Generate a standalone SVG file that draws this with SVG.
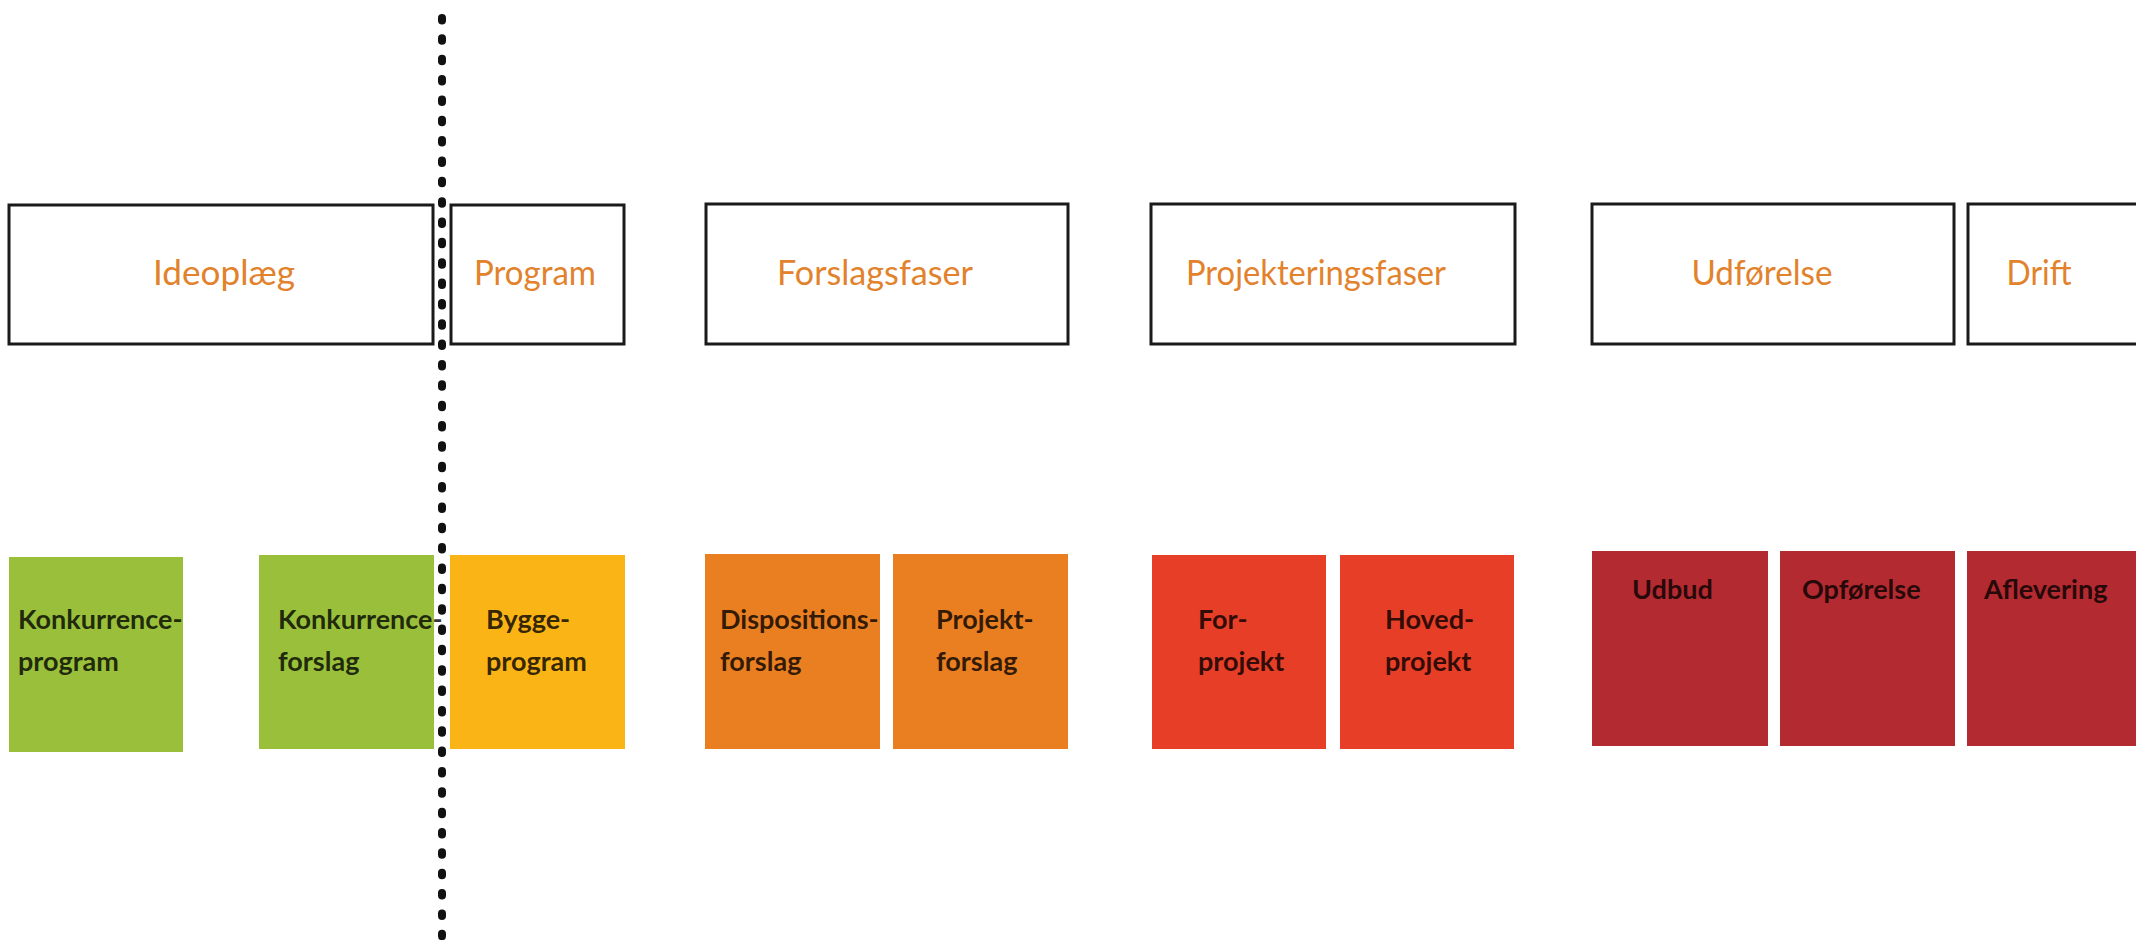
<svg xmlns="http://www.w3.org/2000/svg" width="2136" height="940" viewBox="0 0 2136 940">
  <style>
    .phase { fill: #ffffff; stroke: #1a1a1a; stroke-width: 3; }
    .phase-t { font-family: Lato, "Open Sans", "Liberation Sans", sans-serif; font-size: 35px; fill: #E2822C; text-anchor: middle; }
    .step-t { font-family: Lato, "Open Sans", "Liberation Sans", sans-serif; font-size: 27px; font-weight: 700; fill: #000000; fill-opacity: 0.8; }
    .green { fill: #9AC03B; }
    .yellow { fill: #FBB416; }
    .orange { fill: #EA7F22; }
    .red { fill: #E73E27; }
    .dred { fill: #B32A30; }
  </style>
  <rect width="2136" height="940" fill="#ffffff"/>

  <!-- phase headers -->
  <g id="ideoplaeg">
    <rect class="phase" x="9" y="205" width="424" height="139"/>
    <text class="phase-t" x="224" y="285" textLength="142" lengthAdjust="spacingAndGlyphs">Ideoplæg</text>
  </g>
  <g id="program">
    <rect class="phase" x="451" y="205" width="173" height="139"/>
    <text class="phase-t" x="535" y="285" textLength="122" lengthAdjust="spacingAndGlyphs">Program</text>
  </g>
  <g id="forslagsfaser">
    <rect class="phase" x="706" y="204" width="362" height="140"/>
    <text class="phase-t" x="875" y="285" textLength="196" lengthAdjust="spacingAndGlyphs">Forslagsfaser</text>
  </g>
  <g id="projekteringsfaser">
    <rect class="phase" x="1151" y="204" width="364" height="140"/>
    <text class="phase-t" x="1316" y="285" textLength="260" lengthAdjust="spacingAndGlyphs">Projekteringsfaser</text>
  </g>
  <g id="udfoerelse">
    <rect class="phase" x="1592" y="204" width="362" height="140"/>
    <text class="phase-t" x="1762" y="285" textLength="141" lengthAdjust="spacingAndGlyphs">Udførelse</text>
  </g>
  <g id="drift">
    <rect class="phase" x="1968" y="204" width="180" height="140"/>
    <text class="phase-t" x="2039" y="285" textLength="65" lengthAdjust="spacingAndGlyphs">Drift</text>
  </g>

  <!-- steps -->
  <g id="konkurrenceprogram">
    <rect class="green" x="9" y="557" width="174" height="195"/>
    <text class="step-t" x="18" y="629">Konkurrence-</text>
    <text class="step-t" x="18" y="671">program</text>
  </g>
  <g id="konkurrenceforslag">
    <rect class="green" x="259" y="555" width="175" height="194"/>
    <text class="step-t" x="278" y="629">Konkurrence-</text>
    <text class="step-t" x="278" y="671">forslag</text>
  </g>
  <g id="byggeprogram">
    <rect class="yellow" x="450" y="555" width="175" height="194"/>
    <text class="step-t" x="486" y="629">Bygge-</text>
    <text class="step-t" x="486" y="671">program</text>
  </g>
  <g id="dispositionsforslag">
    <rect class="orange" x="705" y="554" width="175" height="195"/>
    <text class="step-t" x="720" y="629">Dispositions-</text>
    <text class="step-t" x="720" y="671">forslag</text>
  </g>
  <g id="projektforslag">
    <rect class="orange" x="893" y="554" width="175" height="195"/>
    <text class="step-t" x="936" y="629">Projekt-</text>
    <text class="step-t" x="936" y="671">forslag</text>
  </g>
  <g id="forprojekt">
    <rect class="red" x="1152" y="555" width="174" height="194"/>
    <text class="step-t" x="1198" y="629">For-</text>
    <text class="step-t" x="1198" y="671">projekt</text>
  </g>
  <g id="hovedprojekt">
    <rect class="red" x="1340" y="555" width="174" height="194"/>
    <text class="step-t" x="1385" y="629">Hoved-</text>
    <text class="step-t" x="1385" y="671">projekt</text>
  </g>
  <g id="udbud">
    <rect class="dred" x="1592" y="551" width="176" height="195"/>
    <text class="step-t" x="1632" y="599">Udbud</text>
  </g>
  <g id="opfoerelse">
    <rect class="dred" x="1780" y="551" width="175" height="195"/>
    <text class="step-t" x="1802" y="599">Opførelse</text>
  </g>
  <g id="aflevering">
    <rect class="dred" x="1967" y="551" width="180" height="195"/>
    <text class="step-t" x="1984" y="599">Aflevering</text>
  </g>

  <!-- dotted divider -->
  <g id="connectors">
    <line x1="442" y1="18" x2="442" y2="940" stroke="#111111" stroke-width="8" stroke-linecap="round" stroke-dasharray="2.5 17.85"/>
  </g>
</svg>
